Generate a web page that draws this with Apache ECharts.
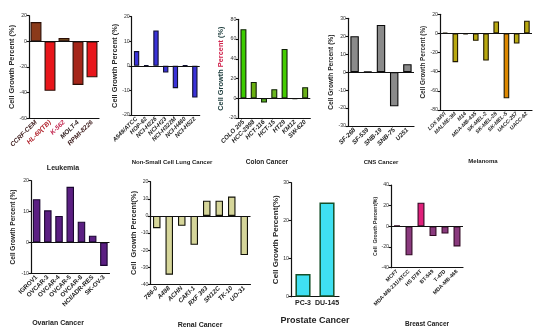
<!DOCTYPE html>
<html><head><meta charset="utf-8">
<script src="https://cdn.jsdelivr.net/npm/echarts@6/dist/echarts.min.js"></script>
<style>html,body{margin:0;padding:0;background:#fff}#c{width:550px;height:336px}</style>
</head><body><div id="c"></div>
<script>
const leukCats = ['CCRF-CEM','HL-60(TB)','K-562','MOLT-4','RPMI-8226'];
const leukVals = [15, -38.5, 2.6, -34, -28];
const nsclcCats = ['A549/ATCC','HOP-62','NCI-H226','NCI-H23','NCI-H322M','NCI-H460','NCI-H522'];
const nsclcVals = [6, 0.3, 14.4, -2.7, -9.1, 0.2, -12.9];
const colonCats = ['COLO 205','HCC-2998','HCT-116','HCT-15','HT29','KM12','SW-620'];
const colonVals = [70, 16.6, -4.4, 9.2, 50, -1, 11.2];
const cnsCats = ['SF-268','SF-539','SNB-19','SNB-75','U251'];
const cnsVals = [20, 0.3, 26.3, -19, 4.4];
const melCats = ['LOX IMVI','MALME-3M','M14','MDA-MB-435','SK-MEL-2','SK-MEL-28','SK-MEL-5','UACC-257','UACC-62'];
const melVals = [1, -30, -1, -7.7, -28.4, 12.6, -67.7, -10.5, 13.3];
const ovCats = ['IGROV1','OVCAR-3','OVCAR-4','OVCAR-5','OVCAR-8','NCI/ADR-RES','SK-OV-3'];
const ovVals = [14, 10.4, 8.6, 18, 6.7, 2.2, -7.6];
const renCats = ['786-0','A498','ACHN','CAKI-1','RXF 393','SN12C','TK-10','UO-31'];
const renVals = [-7.2, -34.4, -5.8, -16.9, 8.9, 8.9, 11.3, -22.9];
const proCats = ['PC-3','DU-145'];
const proVals = [6, 24.8];
const brCats = ['MCF7','MDA-MB-231/ATCC','HS 578T','BT-549','T-47D','MDA-MB-468'];
const brVals = [1, -28, 22.9, -9.4, -7, -19.4];

const FONT = 'Liberation Sans';
const panels = [
  {title:'Leukemia', cats:leukCats, vals:leukVals, min:-60,max:20,step:20,
   g:{left:29,top:15.7,width:70,height:102.6}, bw:'78%',
   colors:['#8B3A1A','#E8161B','#6B451A','#A5261A','#E8161B'], border:'#2a0e06',
   labColors:['#402020','#b0202a','#c0204a','#302020','#402020'],
   lab:{fontSize:6.5,fontStyle:'italic'}, nameGap:11, nameSize:7.4,
   tpos:[63,169], tsize:7},
  {title:'Non-Small Cell Lung Cancer', cats:nsclcCats, vals:nsclcVals, min:-20,max:20,step:10,
   g:{left:131.7,top:16.7,width:68,height:98.3}, bw:'55%',
   colors:['#3a32d8'], border:'#101030',
   lab:{fontSize:6,fontStyle:'italic'}, nameGap:10, nameSize:7.4,
   tpos:[172,163], tsize:6},
  {title:'Colon Cancer', cats:colonCats, vals:colonVals, min:-20,max:80,step:20,
   g:{left:238.3,top:19.3,width:72,height:98.7}, bw:'58%',
   colors:['#3ccc00','#6ab010','#58b020','#6ab820','#44cc00','#3a5a10','#6ab018'], border:'#102008',
   lab:{fontSize:6.3,fontStyle:'italic'}, nameGap:13, nameSize:7.4, richName:true,
   tpos:[267,163], tsize:6.5},
  {title:'CNS Cancer', cats:cnsCats, vals:cnsVals, min:-30,max:30,step:10,
   g:{left:348,top:18.3,width:66,height:107.7}, bw:'64%',
   colors:['#8a8a8a'], border:'#0a0a0a',
   lab:{fontSize:6.3,fontStyle:'italic'}, nameGap:8, nameSize:6.6,
   tpos:[381,163], tsize:6},
  {title:'Melanoma', cats:melCats, vals:melVals, min:-80,max:20,step:20,
   g:{left:440,top:14.3,width:92,height:95.7}, bw:'55%',
   colors:['#b8a810','#b8a810','#b8a810','#b8a810','#b8a810','#b8a810','#dd8800','#b8a810','#b8a810'], border:'#201800',
   lab:{fontSize:5.3,fontStyle:'italic'}, nameGap:6, nameSize:6.4,
   tpos:[483,162], tsize:6},
  {title:'Ovarian Cancer', cats:ovCats, vals:ovVals, min:-10,max:20,step:10,
   g:{left:31,top:180.7,width:78.5,height:92.6}, bw:'67%',
   colors:['#5b1f82'], border:'#1a0630',
   lab:{fontSize:6.3,fontStyle:'normal'}, nameGap:14, nameSize:6.6,
   tpos:[58,324], tsize:7},
  {title:'Renal Cancer', cats:renCats, vals:renVals, min:-40,max:20,step:10,
   g:{left:150.5,top:181.7,width:100,height:102.6}, bw:'60%',
   colors:['#d6d69a'], border:'#121208',
   lab:{fontSize:6.3,fontStyle:'italic'}, nameGap:12, nameSize:7.4, name:'Cell  Growth Percent(%)',
   tpos:[200,325.7], tsize:7},
  {title:'Prostate Cancer', cats:proCats, vals:proVals, min:0,max:30,step:10,
   g:{left:291,top:182.7,width:48,height:114}, bw:'63%',
   colors:['#3fe0f2'], border:'#14502a', bwid:1.5,
   lab:{fontSize:7,fontStyle:'normal',rotate:0}, nameGap:10, nameSize:8, name:'Cell Growth Percent(%)',
   tpos:[315,321.7], tsize:9},
  {title:'Breast Cancer', cats:brCats, vals:brVals, min:-40,max:40,step:20,
   g:{left:391,top:185,width:72,height:82.7}, bw:'58%',
   colors:['#8a3a7e','#8a3a7e','#e0207a','#8a3a7e','#8a3a7e','#8a3a7e'], border:'#300822',
   lab:{fontSize:5.3,fontStyle:'normal'}, nameGap:12, nameSize:5.2, name:'Cell  Growth Percent(%)',
   tpos:[427,325], tsize:6.5}
];

const grid=[], xAxis=[], yAxis=[], series=[], title=[];
panels.forEach((p,i)=>{
  grid.push(Object.assign({containLabel:false}, p.g));
  xAxis.push({type:'category', gridIndex:i, data:p.cats,
    axisLine:{onZero:false, lineStyle:{color:'#111',width:1.2}},
    axisTick:{alignWithLabel:true,length:2.5,lineStyle:{color:'#111',width:1.1}},
    axisLabel:{interval:0, rotate:p.lab.rotate===undefined?45:p.lab.rotate, margin:3,
      fontSize:p.lab.fontSize, fontStyle:p.lab.fontStyle, fontWeight:'bold', fontFamily:FONT,
      color: p.labColors ? ((v,idx)=>p.labColors[idx]) : '#222'}});
  const nm = p.richName ? '{a|Cell Growth }{b|Percent}{a| (%)}' : (p.name||'Cell Growth Percent (%)');
  yAxis.push({type:'value', gridIndex:i, min:p.min, max:p.max, interval:p.step,
    splitLine:{show:false},
    axisLine:{show:true, lineStyle:{color:'#111',width:1.2}},
    axisTick:{show:true,length:2.5,lineStyle:{color:'#111',width:1.1}},
    axisLabel:{fontSize:5.2, margin:2, color:'#333', fontFamily:FONT},
    name:nm, nameLocation:'middle', nameRotate:90, nameGap:p.nameGap,
    nameTextStyle:{fontSize:p.nameSize, fontWeight:'bold', fontFamily:FONT, color:'#2a2a2a',
      rich:{a:{fontSize:p.nameSize,fontWeight:'bold',fontFamily:FONT,color:'#1a3a3a'},
            b:{fontSize:p.nameSize,fontWeight:'bold',fontFamily:FONT,color:'#d0204a'}}}});
  const s = {type:'bar', xAxisIndex:i, yAxisIndex:i, data:p.vals, barWidth:p.bw,
    itemStyle:{color:(q)=>p.colors[q.dataIndex % p.colors.length], borderColor:p.border, borderWidth:p.bwid||1.1},
    silent:true, animation:false};
  if (p.min < 0) {
    s.markLine = {silent:true, symbol:['none','none'], label:{show:false},
      lineStyle:{color:'#111',width:1.1,type:'solid'}, data:[{yAxis:0}], animation:false};
  }
  series.push(s);
  title.push({text:p.title, left:p.tpos[0], top:p.tpos[1]-p.tsize*0.6, textAlign:'center', padding:0,
    textStyle:{fontSize:p.tsize, fontWeight:'bold', fontFamily:FONT, color:'#222'}});
});

const chart = echarts.init(document.getElementById('c'), null, {renderer:'canvas'});
chart.setOption({animation:false, backgroundColor:'#fff', title, grid, xAxis, yAxis, series});
</script></body></html>
